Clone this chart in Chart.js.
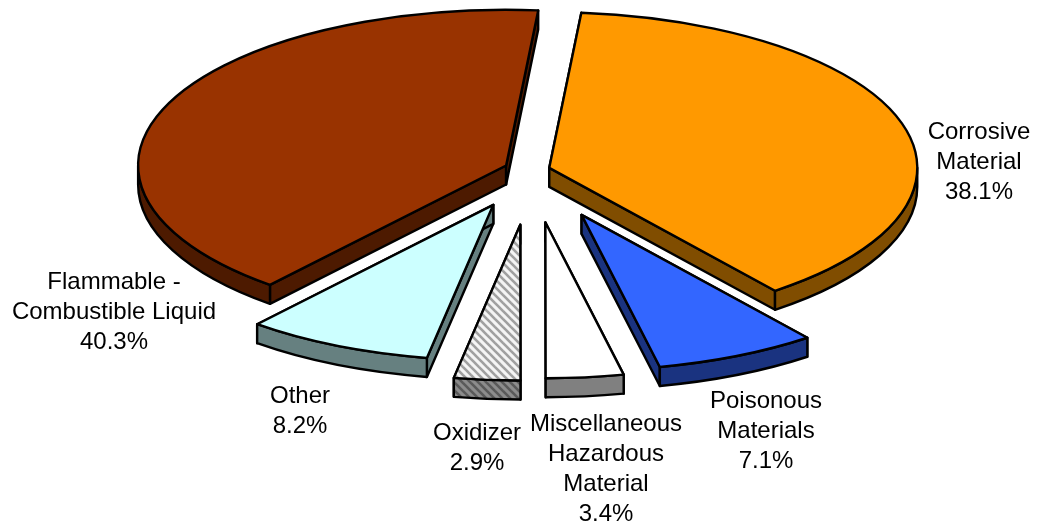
<!DOCTYPE html>
<html>
<head>
<meta charset="utf-8">
<style>
  html, body { margin: 0; padding: 0; background: #fff; }
  #wrap { width: 1039px; height: 527px; }
</style>
<script src="https://cdn.jsdelivr.net/npm/chart.js@4"></script>
</head>
<body>
<div id="wrap"><canvas id="pie" width="1039" height="527"></canvas></div>
<script>
const categories = ["Corrosive Material", "Poisonous Materials", "Miscellaneous Hazardous Material", "Oxidizer", "Other", "Flammable - Combustible Liquid"];
const shares = [38.1, 7.1, 3.4, 2.9, 8.2, 40.3];
const labelLines = [["Corrosive", "Material"], ["Poisonous", "Materials"], ["Miscellaneous", "Hazardous", "Material"], ["Oxidizer"], ["Other"], ["Flammable -", "Combustible Liquid"]];

const explode = [18, 117, 125, 130, 91, 28];
const topColors = ["#ff9900", "#3366ff", "#ffffff", "hatch", "#ccffff", "#993300"];
const wallColors = ["#804d00", "#1a3380", "#808080", "hatchDark", "#668080", "#4d1a00"];
const labelAnchors = [[979, 132], [766, 401], [606, 424], [477, 433], [300, 396], [114, 282]];
const drawOrder = [5, 0, 4, 1, 3, 2];

const tilt = 0.423;
const depth = 19;
const lineH = 30;

function hatch(ctx, bg, fg) {
    const c = document.createElement("canvas");
    c.width = c.height = 8;
    const g = c.getContext("2d");
    g.fillStyle = bg;
    g.fillRect(0, 0, 8, 8);
    g.strokeStyle = fg;
    g.lineWidth = 2.6;
    [-8, 0, 8].forEach(o => {
        g.beginPath();
        g.moveTo(o - 2, -2);
        g.lineTo(o + 10, 10);
        g.stroke();
    });
    return ctx.createPattern(c, "repeat");
}

const pie3d = {
    id: "pie3d",
    beforeDatasetDraw() { return false; },
    afterDatasetsDraw(chart) {
        const ctx = chart.ctx;
        const arcs = chart.getDatasetMeta(0).data;
        const paint = { hatch: hatch(ctx, "#f4f4f4", "#a0a0a0"), hatchDark: hatch(ctx, "#8c8c8c", "#5a5a5a") };
        const fillOf = c => paint[c] || c;

        ctx.save();
        ctx.lineWidth = 2.4;
        ctx.lineJoin = "round";
        ctx.strokeStyle = "#000";

        drawOrder.forEach(i => {
            const el = arcs[i];
            const a0 = el.startAngle, a1 = el.endAngle, R = el.outerRadius;
            const mid = (a0 + a1) / 2;
            const ax = el.x + Math.cos(mid) * el.options.offset;
            const ay = el.y + Math.sin(mid) * el.options.offset * tilt;
            const rimX = a => ax + R * Math.cos(a);
            const rimY = a => ay + R * tilt * Math.sin(a);

            ctx.fillStyle = fillOf(wallColors[i]);
            // the two radial faces
            [a0, a1].forEach(a => {
                ctx.beginPath();
                ctx.moveTo(ax, ay);
                ctx.lineTo(rimX(a), rimY(a));
                ctx.lineTo(rimX(a), rimY(a) + depth);
                ctx.lineTo(ax, ay + depth);
                ctx.closePath();
                ctx.fill();
                ctx.stroke();
            });
            // outer rim, only the part that faces the viewer
            const from = Math.max(a0, 0), to = Math.min(a1, Math.PI);
            if (to > from) {
                ctx.beginPath();
                ctx.ellipse(ax, ay, R, R * tilt, 0, from, to);
                ctx.lineTo(rimX(to), rimY(to) + depth);
                ctx.ellipse(ax, ay + depth, R, R * tilt, 0, to, from, true);
                ctx.closePath();
                ctx.fill();
                ctx.stroke();
            }
            // top face
            ctx.fillStyle = fillOf(topColors[i]);
            ctx.beginPath();
            ctx.moveTo(ax, ay);
            ctx.ellipse(ax, ay, R, R * tilt, 0, a0, a1);
            ctx.closePath();
            ctx.fill();
            ctx.stroke();
        });

        ctx.fillStyle = "#000";
        ctx.font = '24px "Liberation Sans", Arial, sans-serif';
        ctx.textAlign = "center";
        ctx.textBaseline = "middle";
        shares.forEach((v, i) => {
            const lines = labelLines[i].concat(v.toFixed(1) + "%");
            lines.forEach((t, n) => ctx.fillText(t, labelAnchors[i][0], labelAnchors[i][1] + n * lineH));
        });
        ctx.restore();
    }
};

function paintSafe(c) { return c.startsWith("#") ? c : "#cccccc"; }

new Chart(document.getElementById("pie").getContext("2d"), {
    type: "pie",
    data: {
        labels: categories,
        datasets: [{ data: shares, offset: explode, backgroundColor: topColors.map(paintSafe), borderColor: "#000", borderWidth: 2 }]
    },
    options: {
        responsive: false,
        animation: false,
        events: [],
        rotation: 5,
        radius: 368,
        layout: { padding: { left: 25, bottom: 187 } },
        plugins: { legend: { display: false }, tooltip: { enabled: false } }
    },
    plugins: [pie3d]
});
</script>
</body>
</html>
